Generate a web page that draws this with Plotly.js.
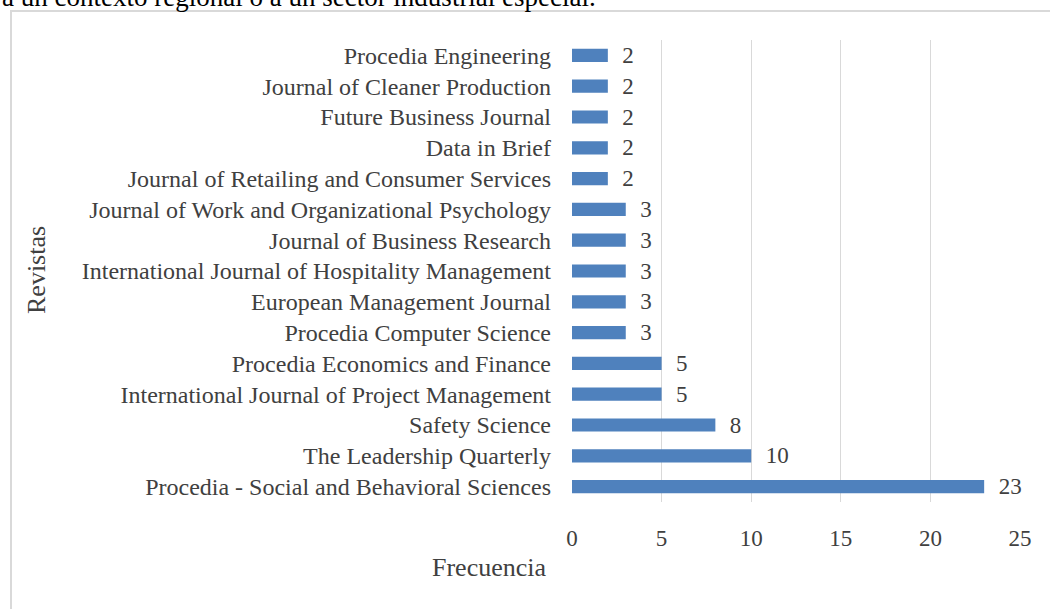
<!DOCTYPE html>
<html>
<head>
<meta charset="utf-8">
<script src="https://cdn.plot.ly/plotly-3.0.1.min.js"></script>
<style>
  html, body { margin: 0; padding: 0; background: #fff; }
  #chart { width: 1050px; height: 609px; }
</style>
</head>
<body>
<div id="chart"></div>
<script>
// journals, bottom to top as drawn
const journals = [
  "Procedia - Social and Behavioral Sciences",
  "The Leadership Quarterly",
  "Safety Science",
  "International Journal of Project Management",
  "Procedia Economics and Finance",
  "Procedia Computer Science",
  "European Management Journal",
  "International Journal of Hospitality Management",
  "Journal of Business Research",
  "Journal of Work and Organizational Psychology",
  "Journal of Retailing and Consumer Services",
  "Data in Brief",
  "Future Business Journal",
  "Journal of Cleaner Production",
  "Procedia Engineering",
];
const counts = [23, 10, 8, 5, 5, 3, 3, 3, 3, 3, 2, 2, 2, 2, 2];
const xTicks = [0, 5, 10, 15, 20, 25];

const W = 1050, H = 609;
const M = { l: 572, r: 30, t: 40, b: 107 };
const pw = W - M.l - M.r, ph = H - M.t - M.b;
// pixel -> paper helpers for the frame and floating text
const px = (x) => (x - M.l) / pw;
const py = (y) => (H - M.b - y) / ph;

const font = "Liberation Serif, Times New Roman, serif";
const grey = "#404040";

const trace = {
  type: "bar",
  orientation: "h",
  x: counts,
  y: journals,
  // small lead-in so the value sits a bit off the bar end
  text: counts.map((c) => "\u00a0\u00a0" + c),
  textposition: "outside",
  constraintext: "none",
  cliponaxis: false,
  textfont: { family: font, size: 23, color: grey },
  marker: { color: "#4f81bd", line: { color: "#4f81bd", width: 0 } },
  hoverinfo: "x+y",
};

const layout = {
  width: W,
  height: H,
  margin: M,
  paper_bgcolor: "#fff",
  plot_bgcolor: "#fff",
  bargap: 0.57,
  showlegend: false,
  font: { family: font, color: grey, size: 23 },
  xaxis: {
    range: [0, 25],
    tickvals: xTicks,
    showgrid: true,
    gridcolor: "#d9d9d9",
    gridwidth: 1.3,
    zeroline: false,
    showline: false,
    ticks: "",
    ticklabelstandoff: 20,
    tickfont: { family: font, size: 23, color: grey },
  },
  yaxis: {
    categoryorder: "array",
    categoryarray: journals,
    showgrid: false,
    zeroline: false,
    showline: false,
    ticks: "",
    ticklabelstandoff: 20,
    tickfont: { family: font, size: 24, color: grey },
  },
  shapes: [
    {
      type: "rect", xref: "paper", yref: "paper",
      x0: px(11), x1: px(1070), y0: py(630), y1: py(11),
      line: { color: "#d9d9d9", width: 2 }, fillcolor: "rgba(0,0,0,0)",
      layer: "below",
    },
  ],
  annotations: [
    {
      // tail of the paragraph above the figure, cut by the top edge
      text: "a un contexto regional o a un sector industrial especial.",
      xref: "paper", yref: "paper", x: px(0), y: py(14),
      xanchor: "left", yanchor: "bottom", showarrow: false,
      font: { family: font, size: 27, color: "#000" },
    },
    {
      text: "Frecuencia",
      xref: "paper", yref: "paper", x: px(489), y: py(567),
      xanchor: "center", yanchor: "middle", showarrow: false,
      font: { family: font, size: 26, color: grey },
    },
    {
      text: "Revistas",
      xref: "paper", yref: "paper", x: px(36), y: py(270),
      xanchor: "center", yanchor: "middle", textangle: -90, showarrow: false,
      font: { family: font, size: 26, color: grey },
    },
  ],
};

Plotly.newPlot("chart", [trace], layout, { displayModeBar: false, staticPlot: true });
</script>
</body>
</html>
